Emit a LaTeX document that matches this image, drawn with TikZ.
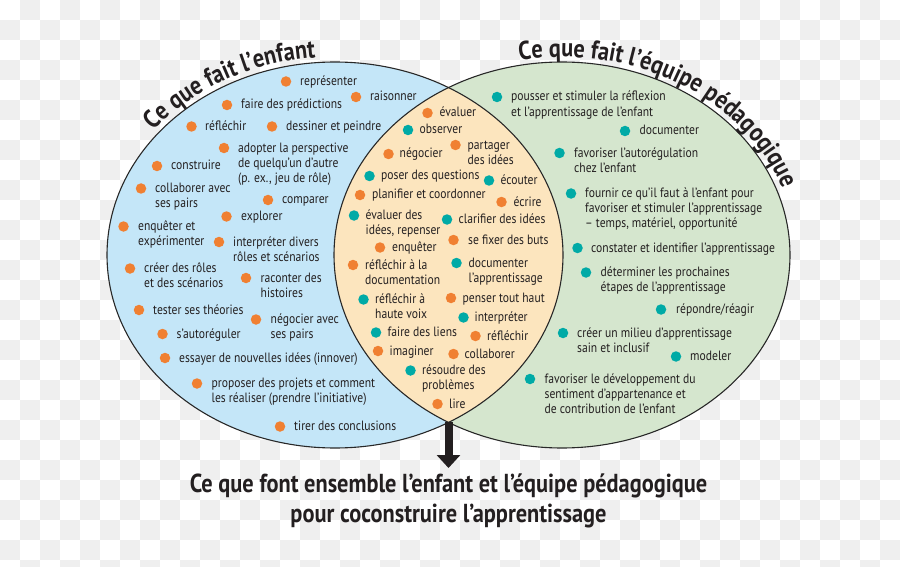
\documentclass[tikz,border=0pt]{standalone}
\usepackage{fontspec}
\setmainfont{PT Sans}[FakeStretch=0.86]
\usetikzlibrary{decorations.text,arrows.meta}
\definecolor{txt}{RGB}{35,31,32}
\definecolor{blueF}{RGB}{196,230,248}
\definecolor{greenF}{RGB}{213,230,206}
\definecolor{lensF}{RGB}{252,229,190}
\definecolor{orB}{RGB}{240,128,50}
\definecolor{teB}{RGB}{0,170,166}
\definecolor{chk}{RGB}{239,239,239}
\definecolor{edge}{RGB}{40,40,40}
\newcommand\lblfont{\fontsize{13.5}{15.2}\selectfont}
\newcommand\ttlfont{\bfseries\fontsize{26}{26}\selectfont}
\newcommand\bitem[7][1]{%
  \node[dot,fill=#3] (#2b) at (#4,#5) {};
  \node[lbl] (#2) at (#6,{#5+4+(#1-1)*15.2}) {#7};}
\tikzset{
  dot/.style={circle,inner sep=0pt,minimum size=10.5pt,draw=none},
  lbl/.style={anchor=base west,align=left,inner sep=0pt,font=\lblfont,text=txt},
  rim/.style={draw=edge,line width=1.1pt},
  bigarrow/.style={draw=txt,line width=8pt,-{Triangle[width=23pt,length=13pt]}},
  bottomtxt/.style={align=center,inner sep=0pt,font=\ttlfont,text=txt},
}
\begin{document}
\begin{tikzpicture}[x=1pt,y=-1pt]
\useasboundingbox (0,0) rectangle (900,567);
% checkerboard
\foreach \i in {0,...,44}{\foreach \j in {0,...,28}{%
  \pgfmathtruncatemacro\k{mod(\i+\j,2)}%
  \ifnum\k=1 \fill[chk] (\i*20,\j*20) rectangle ++(20,20);\fi}}
% ellipses
\fill[blueF] (335,255) ellipse [x radius=228pt, y radius=193pt];
\fill[greenF] (562,255) ellipse [x radius=228pt, y radius=193pt];
\begin{scope}
\clip (335,255) ellipse [x radius=228pt, y radius=193pt];
\fill[lensF] (562,255) ellipse [x radius=228pt, y radius=193pt];
\end{scope}
\draw[rim] (335,255) ellipse [x radius=228pt, y radius=193pt];
\draw[rim] (562,255) ellipse [x radius=228pt, y radius=193pt];
% titles
\path[decorate,decoration={text along path,text align=center,
  text={|\ttlfont\color{txt}|Ce que fait l’enfant}}]
  plot[domain=-154:-83,samples=80,variable=\t] ({335+234*cos(\t)},{255+198*sin(\t)});
\path[decorate,decoration={text along path,text align=center,
  text={|\ttlfont\color{txt}|Ce que fait l’équipe pédagogique}}]
  plot[domain=-113:-5,samples=100,variable=\t] ({562+234*cos(\t)},{255+198*sin(\t)});
% left items
\bitem{l1}{orB}{286}{81.5}{300}{représenter}
\bitem{l2}{orB}{356}{97}{370}{raisonner}
\bitem{l3}{orB}{227}{105}{241}{faire des prédictions}
\bitem{l4}{orB}{191.5}{126.5}{205}{réfléchir}
\bitem{l5}{orB}{272}{126.5}{286}{dessiner et peindre}
\bitem[3]{l6}{orB}{224}{148}{238}{adopter la perspective\\de quelqu’un d’autre\\(p. ex., jeu de rôle)}
\bitem{l7}{orB}{157}{166}{171}{construire}
\bitem[2]{l8}{orB}{141}{188.5}{155}{collaborer avec\\ses pairs}
\bitem{l9}{orB}{268}{200}{282}{comparer}
\bitem{l10}{orB}{226.5}{216.5}{241}{explorer}
\bitem[2]{l11}{orB}{123.5}{226.5}{138}{enquêter et\\expérimenter}
\bitem[2]{l12}{orB}{219}{242}{233}{interpréter divers\\rôles et scénarios}
\bitem[2]{l13}{orB}{130}{268.5}{144}{créer des rôles\\et des scénarios}
\bitem[2]{l14}{orB}{246}{278}{260.5}{raconter des\\histoires}
\bitem{l15}{orB}{139}{310}{153}{tester ses théories}
\bitem[2]{l16}{orB}{256}{319.5}{270.5}{négocier avec\\ses pairs}
\bitem{l17}{orB}{162.5}{334}{176.5}{s’autoréguler}
\bitem{l18}{orB}{165}{358}{179}{essayer de nouvelles idées (innover)}
\bitem[2]{l19}{orB}{197}{383.5}{211.5}{proposer des projets et comment\\les réaliser (prendre l’initiative)}
\bitem{l20}{orB}{280}{426.5}{294}{tirer des conclusions}
% centre items
\bitem{c1}{orB}{427.5}{113}{439.5}{évaluer}
\bitem{c2}{teB}{408}{130}{419.5}{observer}
\bitem{c3}{orB}{388.5}{154}{399.5}{négocier}
\bitem[2]{c4}{orB}{455.5}{145}{467.5}{partager\\des idées}
\bitem{c5}{teB}{369.5}{176}{381}{poser des questions}
\bitem{c6}{teB}{489}{180.5}{500.5}{écouter}
\bitem{c7}{orB}{360}{195}{372}{planifier et coordonner}
\bitem{c8}{orB}{501.5}{202}{513.5}{écrire}
\bitem[2]{c9}{teB}{354}{215.5}{365.5}{évaluer des\\idées, repenser}
\bitem{c10}{teB}{447}{219.5}{458.5}{clarifier des idées}
\bitem{c11}{orB}{453.5}{240}{468}{se fixer des buts}
\bitem{c12}{orB}{380}{247.5}{392}{enquêter}
\bitem[2]{c13}{teB}{456.5}{263}{468.5}{documenter\\l’apprentissage}
\bitem[2]{c14}{orB}{353}{265}{365}{réfléchir à la\\documentation}
\bitem[2]{c15}{teB}{363.5}{299.5}{375}{réfléchir à\\haute voix}
\bitem{c16}{orB}{451}{298}{462.5}{penser tout haut}
\bitem{c17}{teB}{463.5}{317.5}{474.5}{interpréter}
\bitem{c18}{teB}{376}{332.5}{387.5}{faire des liens}
\bitem{c19}{orB}{475.5}{336}{487}{réfléchir}
\bitem{c20}{orB}{378}{351}{389.5}{imaginer}
\bitem{c21}{orB}{453.5}{354}{464.5}{collaborer}
\bitem[2]{c22}{teB}{410.5}{370.5}{422}{résoudre des\\problèmes}
\bitem{c23}{orB}{437.5}{404}{449}{lire}
% right items
\bitem[2]{r1}{teB}{497}{97}{511}{pousser et stimuler la réflexion\\et l’apprentissage de l’enfant}
\bitem{r2}{teB}{625}{131}{639.5}{documenter}
\bitem[2]{r3}{teB}{559.5}{153}{574}{favoriser l’autorégulation\\chez l’enfant}
\bitem[3]{r4}{teB}{571}{193.5}{585}{fournir ce qu’il faut à l’enfant pour\\favoriser et stimuler l’apprentissage\\– temps, matériel, opportunité}
\bitem{r5}{teB}{577.5}{248}{591}{constater et identifier l’apprentissage}
\bitem[2]{r6}{teB}{586}{272.5}{600.5}{déterminer les prochaines\\étapes de l’apprentissage}
\bitem{r7}{teB}{661}{309.5}{676}{répondre/réagir}
\bitem[2]{r8}{teB}{563}{333}{577}{créer un milieu d’apprentissage\\sain et inclusif}
\bitem{r9}{teB}{676}{356.5}{690}{modeler}
\bitem[3]{r10}{teB}{530}{379}{544.5}{favoriser le développement du\\sentiment d’appartenance et\\de contribution de l’enfant}
% bottom
\node[bottomtxt,anchor=north] (joint) at (448.5,474)
  {Ce que font ensemble l’enfant et l’équipe pédagogique\\[4pt]pour coconstruire l’apprentissage};
\coordinate (lensbot) at (448.5,422.4);
\draw[bigarrow,shorten >=6pt] (lensbot) -- (joint.north);
\end{tikzpicture}
\end{document}
